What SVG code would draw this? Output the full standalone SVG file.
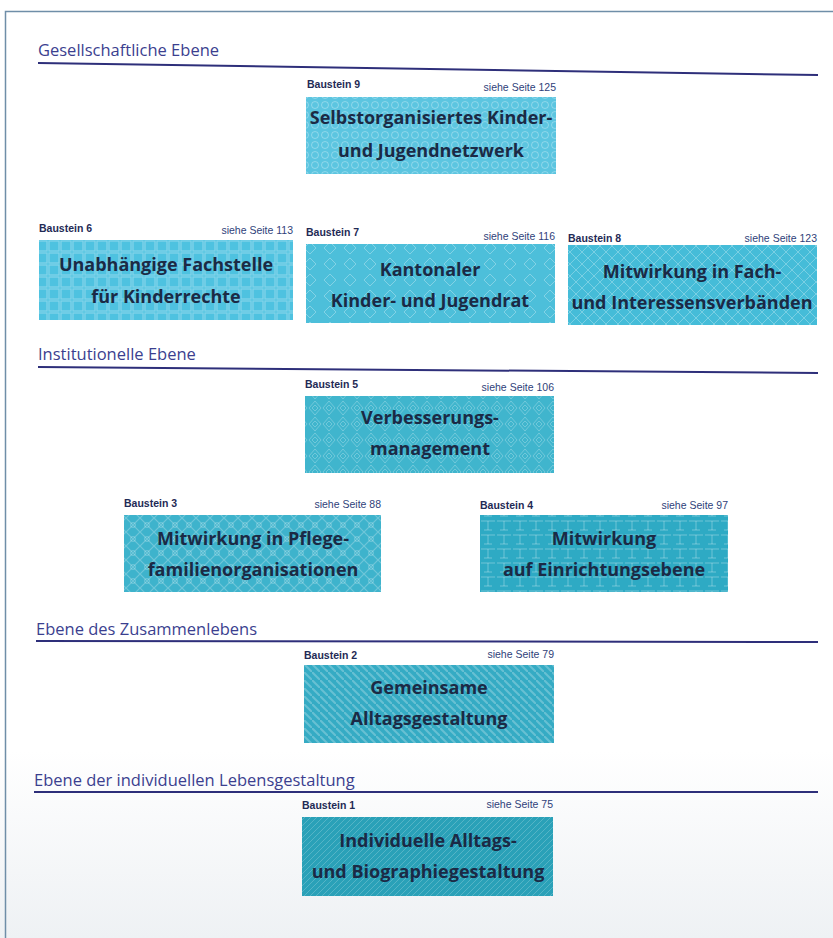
<svg xmlns="http://www.w3.org/2000/svg" width="833" height="938" viewBox="0 0 833 938">
<style>
.h{font-family:"Open Sans","Liberation Sans",sans-serif;font-size:16.5px;fill:#3b3f8f}
.bl{font-family:"Liberation Sans",sans-serif;font-size:10.5px;font-weight:bold;fill:#1f2a55}
.sl{font-family:"Liberation Sans",sans-serif;font-size:10.5px;fill:#2f3f7a;text-anchor:end}
.t{font-family:"Open Sans","Liberation Sans",sans-serif;font-size:18px;font-weight:bold;fill:#1b2a45;text-anchor:middle}
.ln{stroke:#2e2f7a;stroke-width:2;fill:none}
</style>
<defs>
<pattern id="p9" width="10" height="10" patternUnits="userSpaceOnUse"><circle cx="5" cy="5" r="3.5" fill="none" stroke="#ffffff" stroke-opacity="0.3" stroke-width="1"/></pattern>
<pattern id="p6" width="12" height="12" patternUnits="userSpaceOnUse"><rect x="1" y="1" width="10" height="10" fill="none" stroke="#ffffff" stroke-opacity="0.3" stroke-width="1.2"/></pattern>
<pattern id="p7" width="20" height="16" patternUnits="userSpaceOnUse"><path d="M10 2 L16 8 L10 14 L4 8 Z" fill="none" stroke="#ffffff" stroke-opacity="0.3" stroke-width="1"/></pattern>
<pattern id="p8" width="12" height="12" patternUnits="userSpaceOnUse"><path d="M6 0 L12 6 L6 12 L0 6 Z" fill="none" stroke="#ffffff" stroke-opacity="0.28" stroke-width="1"/></pattern>
<pattern id="p5" width="14" height="16" patternUnits="userSpaceOnUse"><path d="M7 1 L13 8 L7 15 L1 8 Z M7 5 L10 8 L7 11 L4 8 Z" fill="none" stroke="#ffffff" stroke-opacity="0.25" stroke-width="1"/></pattern>
<pattern id="p3" width="14" height="14" patternUnits="userSpaceOnUse"><path d="M0 0 L14 14 M14 0 L0 14" stroke="#ffffff" stroke-opacity="0.25" stroke-width="1.2"/><circle cx="7" cy="7" r="2.5" fill="none" stroke="#ffffff" stroke-opacity="0.25"/></pattern>
<pattern id="p4" width="16" height="14" patternUnits="userSpaceOnUse"><path d="M1 3 H15 M8 3 V12 M4 12 H12" stroke="#ffffff" stroke-opacity="0.3" stroke-width="1"/></pattern>
<pattern id="p2" width="8" height="8" patternUnits="userSpaceOnUse"><path d="M0 0 L8 8" stroke="#ffffff" stroke-opacity="0.25" stroke-width="2"/></pattern>
<pattern id="p1" width="6" height="6" patternUnits="userSpaceOnUse"><path d="M0 6 L6 0" stroke="#ffffff" stroke-opacity="0.2" stroke-width="1"/></pattern>
<linearGradient id="bg" x1="0" y1="0" x2="0" y2="1"><stop offset="0.8" stop-color="#ffffff"/><stop offset="1" stop-color="#eef1f4"/></linearGradient>
</defs>
<rect x="0" y="0" width="833" height="938" fill="url(#bg)"/>
<rect x="5.5" y="11.5" width="830" height="930" fill="none" stroke="#6f8ea8" stroke-width="1.5"/>

<g id="sections">
<text class="h" x="38" y="56">Gesellschaftliche Ebene</text>
<path class="ln" d="M38 63 Q200 64 818 75"/>
<text class="h" x="38" y="360">Institutionelle Ebene</text>
<path class="ln" d="M38 367 Q300 368 818 373"/>
<text class="h" x="36" y="635">Ebene des Zusammenlebens</text>
<path class="ln" d="M36 641 L818 642"/>
<text class="h" x="34" y="786">Ebene der individuellen Lebensgestaltung</text>
<path class="ln" d="M34 792 L818 792"/>
</g>

<g id="b9">
<rect x="306" y="97" width="250" height="77" fill="#5cc5e0"/><rect x="306" y="97" width="250" height="77" fill="url(#p9)"/>
<text class="bl" x="307" y="88">Baustein 9</text><text class="sl" x="556" y="91">siehe Seite 125</text>
<text class="t" x="431" y="124">Selbstorganisiertes Kinder-</text><text class="t" x="431" y="157">und Jugendnetzwerk</text>
</g>
<g id="b6">
<rect x="39" y="240" width="254" height="80" fill="#4ec2e0"/><rect x="39" y="240" width="254" height="80" fill="url(#p6)"/>
<text class="bl" x="39" y="232">Baustein 6</text><text class="sl" x="293" y="234">siehe Seite 113</text>
<text class="t" x="166" y="271">Unabhängige Fachstelle</text><text class="t" x="166" y="303">für Kinderrechte</text>
</g>
<g id="b7">
<rect x="306" y="244" width="249" height="79" fill="#4dbfda"/><rect x="306" y="244" width="249" height="79" fill="url(#p7)"/>
<text class="bl" x="306" y="236">Baustein 7</text><text class="sl" x="555" y="240">siehe Seite 116</text>
<text class="t" x="430" y="276">Kantonaler</text><text class="t" x="430" y="307">Kinder- und Jugendrat</text>
</g>
<g id="b8">
<rect x="568" y="245" width="249" height="80" fill="#45bcd8"/><rect x="568" y="245" width="249" height="80" fill="url(#p8)"/>
<text class="bl" x="568" y="242">Baustein 8</text><text class="sl" x="817" y="242">siehe Seite 123</text>
<text class="t" x="692" y="278">Mitwirkung in Fach-</text><text class="t" x="692" y="309">und Interessensverbänden</text>
</g>
<g id="b5">
<rect x="305" y="396" width="249" height="77" fill="#40b5cd"/><rect x="305" y="396" width="249" height="77" fill="url(#p5)"/>
<text class="bl" x="305" y="388">Baustein 5</text><text class="sl" x="554" y="391">siehe Seite 106</text>
<text class="t" x="430" y="424">Verbesserungs-</text><text class="t" x="430" y="455">management</text>
</g>
<g id="b3">
<rect x="124" y="515" width="257" height="77" fill="#3eb3cc"/><rect x="124" y="515" width="257" height="77" fill="url(#p3)"/>
<text class="bl" x="124" y="507">Baustein 3</text><text class="sl" x="381" y="508">siehe Seite 88</text>
<text class="t" x="253" y="545">Mitwirkung in Pflege-</text><text class="t" x="253" y="576">familienorganisationen</text>
</g>
<g id="b4">
<rect x="480" y="515" width="248" height="77" fill="#2eaac4"/><rect x="480" y="515" width="248" height="77" fill="url(#p4)"/>
<text class="bl" x="480" y="509">Baustein 4</text><text class="sl" x="728" y="509">siehe Seite 97</text>
<text class="t" x="604" y="545">Mitwirkung</text><text class="t" x="604" y="576">auf Einrichtungsebene</text>
</g>
<g id="b2">
<rect x="304" y="665" width="250" height="78" fill="#35abc4"/><rect x="304" y="665" width="250" height="78" fill="url(#p2)"/>
<text class="bl" x="304" y="659">Baustein 2</text><text class="sl" x="554" y="658">siehe Seite 79</text>
<text class="t" x="429" y="694">Gemeinsame</text><text class="t" x="429" y="725">Alltagsgestaltung</text>
</g>
<g id="b1">
<rect x="302" y="817" width="251" height="79" fill="#2aa1b8"/><rect x="302" y="817" width="251" height="79" fill="url(#p1)"/>
<text class="bl" x="302" y="809">Baustein 1</text><text class="sl" x="553" y="808">siehe Seite 75</text>
<text class="t" x="428" y="847">Individuelle Alltags-</text><text class="t" x="428" y="878">und Biographiegestaltung</text>
</g>
<g id="connectors"></g>
</svg>
